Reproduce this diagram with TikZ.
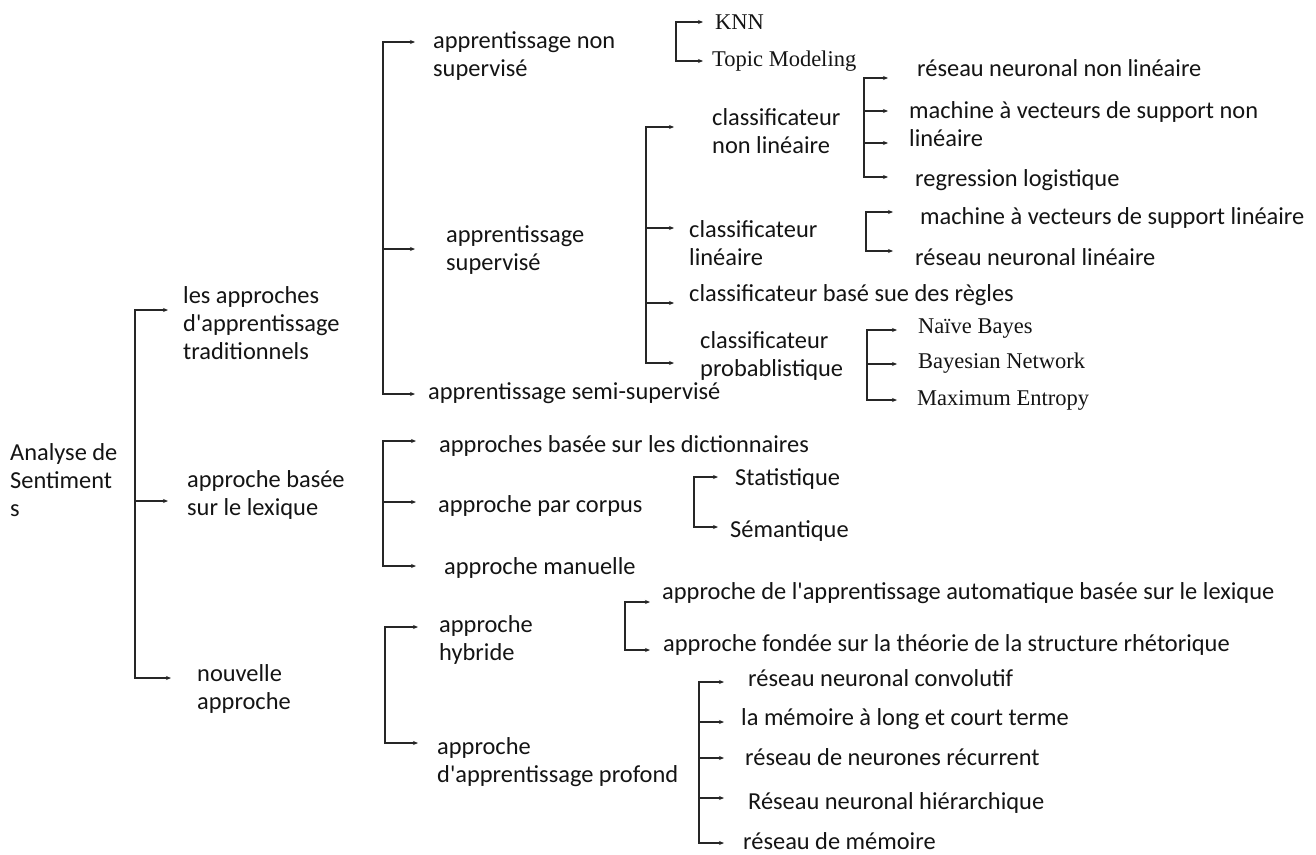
\documentclass[tikz,border=0pt]{standalone}
\usepackage{fontspec}
\setmainfont{Carlito}[Ligatures=TeXOff]
\newfontfamily\timesfont{Liberation Serif}
\usetikzlibrary{arrows.meta}
\begin{document}
\begin{tikzpicture}[x=1pt,y=-1pt,
  txt/.style={anchor=west,inner sep=0pt,align=left,text=black!92,
    font=\fontsize{24.4}{28}\selectfont},
  ser/.style={txt,font=\timesfont\fontsize{22.5}{26}\selectfont},
  link/.style={draw=black!85,line width=1.25pt,
    -{Stealth[length=5pt,width=4pt]}}]
\useasboundingbox (0,0) rectangle (1316,854);
\fill[white] (0,0) rectangle (1316,854);

% ---------- text nodes ----------
\node[txt] (root) at (10,480) {Analyse de\\Sentiment\\s};

\node[txt] (trad) at (183,323) {les approches\\d'apprentissage\\traditionnels};
\node[txt] (lex)  at (187,495) {approche basée\\sur le lexique};
\node[txt] (new)  at (197,689) {nouvelle\\approche};

\node[txt] (uns)  at (433,56)  {apprentissage non\\supervisé};
\node[txt] (sup)  at (446,250) {apprentissage\\supervisé};
\node[txt] (semi) at (428,393) {apprentissage semi-supervisé};

\node[ser] (knn)   at (715,22) {KNN};
\node[ser] (topic) at (712,61) {Topic Modeling};

\node[txt] (cnl) at (712,131) {classificateur\\non linéaire};
\node[txt] (cl)  at (689,243) {classificateur\\linéaire};
\node[txt] (cr)  at (689,295) {classificateur basé sue des règles};
\node[txt] (cp)  at (700,356) {classificateur\\probablistique};

\node[txt] (rnnl)   at (917,68)  {réseau neuronal non linéaire};
\node[txt] (svmnl)  at (909,124) {machine à vecteurs de support non\\linéaire};
\node[txt] (reglog) at (915,180) {regression logistique};

\node[txt] (svml) at (920,218) {machine à vecteurs de support linéaire};
\node[txt] (rnl)  at (915,257) {réseau neuronal linéaire};

\node[ser] (nb) at (918,329) {Naïve Bayes};
\node[ser] (bn) at (918,363) {Bayesian Network};
\node[ser] (me) at (917,400) {Maximum Entropy};

\node[txt] (dict)   at (439,446) {approches basée sur les dictionnaires};
\node[txt] (corpus) at (438,506) {approche par corpus};
\node[txt] (manu)   at (444,568) {approche manuelle};

\node[txt] (stat) at (735,479) {Statistique};
\node[txt] (sem)  at (730,531) {Sémantique};

\node[txt] (hyb)  at (439,640) {approche\\hybride};
\node[txt] (deep) at (437,762) {approche\\d'apprentissage profond};

\node[txt] (hyb1) at (662,593) {approche de l'apprentissage automatique basée sur le lexique};
\node[txt] (hyb2) at (663,645) {approche fondée sur la théorie de la structure rhétorique};

\node[txt] (cnn)  at (748,678) {réseau neuronal convolutif};
\node[txt] (lstm) at (741,719) {la mémoire à long et court terme};
\node[txt] (rnn)  at (745,757) {réseau de neurones récurrent};
\node[txt] (hnn)  at (748,803) {Réseau neuronal hiérarchique};
\node[txt] (memn) at (743,841) {réseau de mémoire};

% ---------- brackets: spine point and arrow tips ----------
% root
\coordinate (sRoot) at (135,494);
\coordinate (tTrad) at (168,310);
\coordinate (tLex)  at (168,501);
\coordinate (tNew)  at (171,678);
\draw[link] (sRoot) |- (tTrad);
\draw[link] (sRoot) |- (tLex);
\draw[link] (sRoot) |- (tNew);

% traditional learning
\coordinate (sTrad) at (383,250);
\coordinate (tUns)  at (415,42);
\coordinate (tSup)  at (415,249);
\coordinate (tSemi) at (415,394);
\draw[link] (sTrad) |- (tUns);
\draw[link] (sTrad) |- (tSup);
\draw[link] (sTrad) |- (tSemi);

% unsupervised
\coordinate (sUns)   at (676,40);
\coordinate (tKnn)   at (703,22);
\coordinate (tTopic) at (703,61);
\draw[link] (sUns) |- (tKnn);
\draw[link] (sUns) |- (tTopic);

% supervised
\coordinate (sSup) at (646,250);
\coordinate (tCnl) at (674,127);
\coordinate (tCl)  at (674,228);
\coordinate (tCr)  at (674,303);
\coordinate (tCp)  at (674,363);
\draw[link] (sSup) |- (tCnl);
\draw[link] (sSup) |- (tCl);
\draw[link] (sSup) |- (tCr);
\draw[link] (sSup) |- (tCp);

% non-linear classifier
\coordinate (sCnl) at (864,128);
\coordinate (tCnl1) at (888,78);
\coordinate (tCnl2) at (888,111);
\coordinate (tCnl3) at (888,143);
\coordinate (tCnl4) at (888,177);
\draw[link] (sCnl) |- (tCnl1);
\draw[link] (sCnl) |- (tCnl2);
\draw[link] (sCnl) |- (tCnl3);
\draw[link] (sCnl) |- (tCnl4);

% linear classifier
\coordinate (sCl)  at (866,232);
\coordinate (tCl1) at (893,212);
\coordinate (tCl2) at (893,251);
\draw[link] (sCl) |- (tCl1);
\draw[link] (sCl) |- (tCl2);

% probabilistic classifier
\coordinate (sCp)  at (867,364);
\coordinate (tCp1) at (897,330);
\coordinate (tCp2) at (897,364);
\coordinate (tCp3) at (897,400);
\draw[link] (sCp) |- (tCp1);
\draw[link] (sCp) -- (tCp2);
\draw[link] (sCp) |- (tCp3);

% lexicon
\coordinate (sLex)    at (383,502);
\coordinate (tDict)   at (416,441);
\coordinate (tCorpus) at (416,502);
\coordinate (tManu)   at (416,566);
\draw[link] (sLex) |- (tDict);
\draw[link] (sLex) -- (tCorpus);
\draw[link] (sLex) |- (tManu);

% corpus
\coordinate (sCorpus) at (694,502);
\coordinate (tStat)   at (718,477);
\coordinate (tSem)    at (718,527);
\draw[link] (sCorpus) |- (tStat);
\draw[link] (sCorpus) |- (tSem);

% new approach
\coordinate (sNew)  at (385,685);
\coordinate (tHyb)  at (418,627);
\coordinate (tDeep) at (418,743);
\draw[link] (sNew) |- (tHyb);
\draw[link] (sNew) |- (tDeep);

% hybrid
\coordinate (sHyb)  at (625,626);
\coordinate (tHyb1) at (650,602);
\coordinate (tHyb2) at (650,650);
\draw[link] (sHyb) |- (tHyb1);
\draw[link] (sHyb) |- (tHyb2);

% deep learning
\coordinate (sDeep) at (699,760);
\coordinate (tD1) at (724,682);
\coordinate (tD2) at (724,722);
\coordinate (tD3) at (724,758);
\coordinate (tD4) at (724,798);
\coordinate (tD5) at (724,843);
\draw[link] (sDeep) |- (tD1);
\draw[link] (sDeep) |- (tD2);
\draw[link] (sDeep) |- (tD3);
\draw[link] (sDeep) |- (tD4);
\draw[link] (sDeep) |- (tD5);
\end{tikzpicture}
\end{document}
